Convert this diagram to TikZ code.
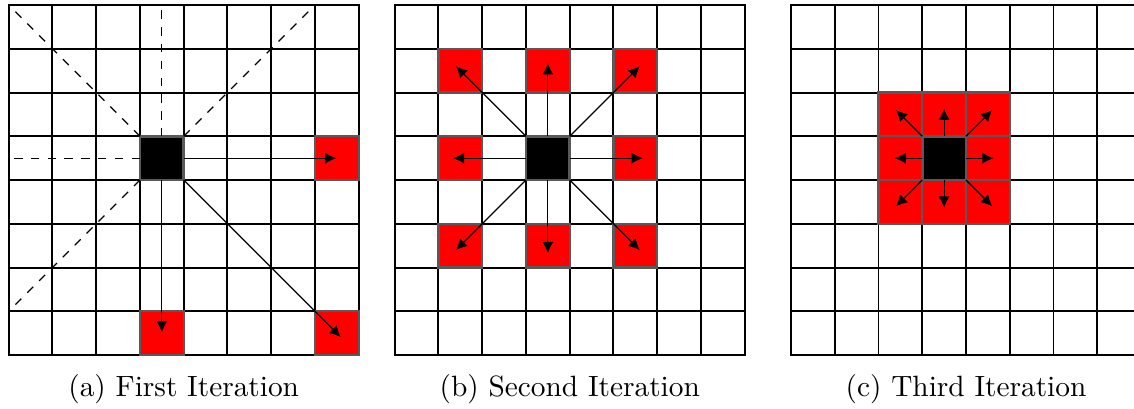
\documentclass[tikz,border=0pt]{standalone}
\usepackage{tikz}
\usetikzlibrary{arrows.meta}

\begin{document}
\begin{tikzpicture}[
  x=0.55cm, y=0.55cm,
  >={Latex[length=4pt,width=4pt]},
  board/.style={draw=black, line width=0.7pt, step=1},
  frame/.style={draw=black, line width=0.85pt},
  cell/.style={minimum size=0.55cm, inner sep=0pt, outer sep=0pt,
               draw=black!65, line width=0.75pt},
  hit/.style={cell, fill=red},
  src/.style={cell, fill=black, line width=0.9pt},
  ray/.style={->, line width=0.45pt},
  probe/.style={dashed, line width=0.45pt},
  sublbl/.style={anchor=base, font=\fontsize{10.5}{12.6}\selectfont},
]
\useasboundingbox (0,0) rectangle (25.92,9.326);

% ---- (a) first iteration: long rays, dashed ones find nothing ----
\begin{scope}[shift={(0.199,1.211)}]
  \draw[board] (0,0) grid (8,8);
  \draw[frame] (0,0) rectangle (8,8);
  \node[hit] (a-e)  at (7.5,4.5) {};
  \node[hit] (a-s)  at (3.5,0.5) {};
  \node[hit] (a-se) at (7.5,0.5) {};
  \node[src] (a-src) at (3.5,4.5) {};
  % ray ends
  \coordinate (a-te)  at (7.49,4.5);
  \coordinate (a-ts)  at (3.5,0.52);
  \coordinate (a-tse) at (7.59,0.41);
  \coordinate (a-dnw) at (0.08,7.92);
  \coordinate (a-dn)  at (3.5,7.88);
  \coordinate (a-dw)  at (0.08,4.5);
  \coordinate (a-dne) at (6.92,7.92);
  \coordinate (a-dsw) at (0.08,1.08);
  \draw[ray] (a-src) -- (a-te);
  \draw[ray] (a-src) -- (a-ts);
  \draw[ray] (a-src) -- (a-tse);
  \draw[probe] (a-src) -- (a-dnw);
  \draw[probe] (a-src) -- (a-dn);
  \draw[probe] (a-src) -- (a-dw);
  \draw[probe] (a-src) -- (a-dne);
  \draw[probe] (a-src) -- (a-dsw);
  \node[sublbl] (cap-a) at (4,-0.952) {(a) First Iteration};
\end{scope}

% ---- (b) second iteration: ring at distance two ----
\begin{scope}[shift={(9.022,1.211)}]
  \draw[board] (0,0) grid (8,8);
  \draw[frame] (0,0) rectangle (8,8);
  \node[hit] (b-nw) at (1.5,6.5) {};
  \node[hit] (b-n)  at (3.5,6.5) {};
  \node[hit] (b-ne) at (5.5,6.5) {};
  \node[hit] (b-w)  at (1.5,4.5) {};
  \node[hit] (b-e)  at (5.5,4.5) {};
  \node[hit] (b-sw) at (1.5,2.5) {};
  \node[hit] (b-s)  at (3.5,2.5) {};
  \node[hit] (b-se) at (5.5,2.5) {};
  \node[src] (b-src) at (3.5,4.5) {};
  % ray ends
  \coordinate (b-tn)  at (3.5,6.67);
  \coordinate (b-ts)  at (3.5,2.33);
  \coordinate (b-te)  at (5.67,4.5);
  \coordinate (b-tw)  at (1.33,4.5);
  \coordinate (b-tne) at (5.6,6.6);
  \coordinate (b-tnw) at (1.4,6.6);
  \coordinate (b-tse) at (5.6,2.4);
  \coordinate (b-tsw) at (1.4,2.4);
  \draw[ray] (b-src) -- (b-tn);
  \draw[ray] (b-src) -- (b-ts);
  \draw[ray] (b-src) -- (b-te);
  \draw[ray] (b-src) -- (b-tw);
  \draw[ray] (b-src) -- (b-tne);
  \draw[ray] (b-src) -- (b-tnw);
  \draw[ray] (b-src) -- (b-tse);
  \draw[ray] (b-src) -- (b-tsw);
  \node[sublbl] (cap-b) at (4,-0.952) {(b) Second Iteration};
\end{scope}

% ---- (c) third iteration: direct neighbours ----
\begin{scope}[shift={(18.08,1.211)}]
  \draw[board] (0,0) grid (8,8);
  \draw[frame] (0,0) rectangle (8,8);
  \node[hit] (c-nw) at (2.5,5.5) {};
  \node[hit] (c-n)  at (3.5,5.5) {};
  \node[hit] (c-ne) at (4.5,5.5) {};
  \node[hit] (c-w)  at (2.5,4.5) {};
  \node[hit] (c-e)  at (4.5,4.5) {};
  \node[hit] (c-sw) at (2.5,3.5) {};
  \node[hit] (c-s)  at (3.5,3.5) {};
  \node[hit] (c-se) at (4.5,3.5) {};
  \node[src] (c-src) at (3.5,4.5) {};
  % ray ends
  \coordinate (c-tn)  at (3.5,5.63);
  \coordinate (c-ts)  at (3.5,3.37);
  \coordinate (c-te)  at (4.63,4.5);
  \coordinate (c-tw)  at (2.37,4.5);
  \coordinate (c-tne) at (4.6,5.6);
  \coordinate (c-tnw) at (2.4,5.6);
  \coordinate (c-tse) at (4.6,3.4);
  \coordinate (c-tsw) at (2.4,3.4);
  \draw[ray] (c-src) -- (c-tn);
  \draw[ray] (c-src) -- (c-ts);
  \draw[ray] (c-src) -- (c-te);
  \draw[ray] (c-src) -- (c-tw);
  \draw[ray] (c-src) -- (c-tne);
  \draw[ray] (c-src) -- (c-tnw);
  \draw[ray] (c-src) -- (c-tse);
  \draw[ray] (c-src) -- (c-tsw);
  \node[sublbl] (cap-c) at (4,-0.952) {(c) Third Iteration};
\end{scope}
\end{tikzpicture}
\end{document}
